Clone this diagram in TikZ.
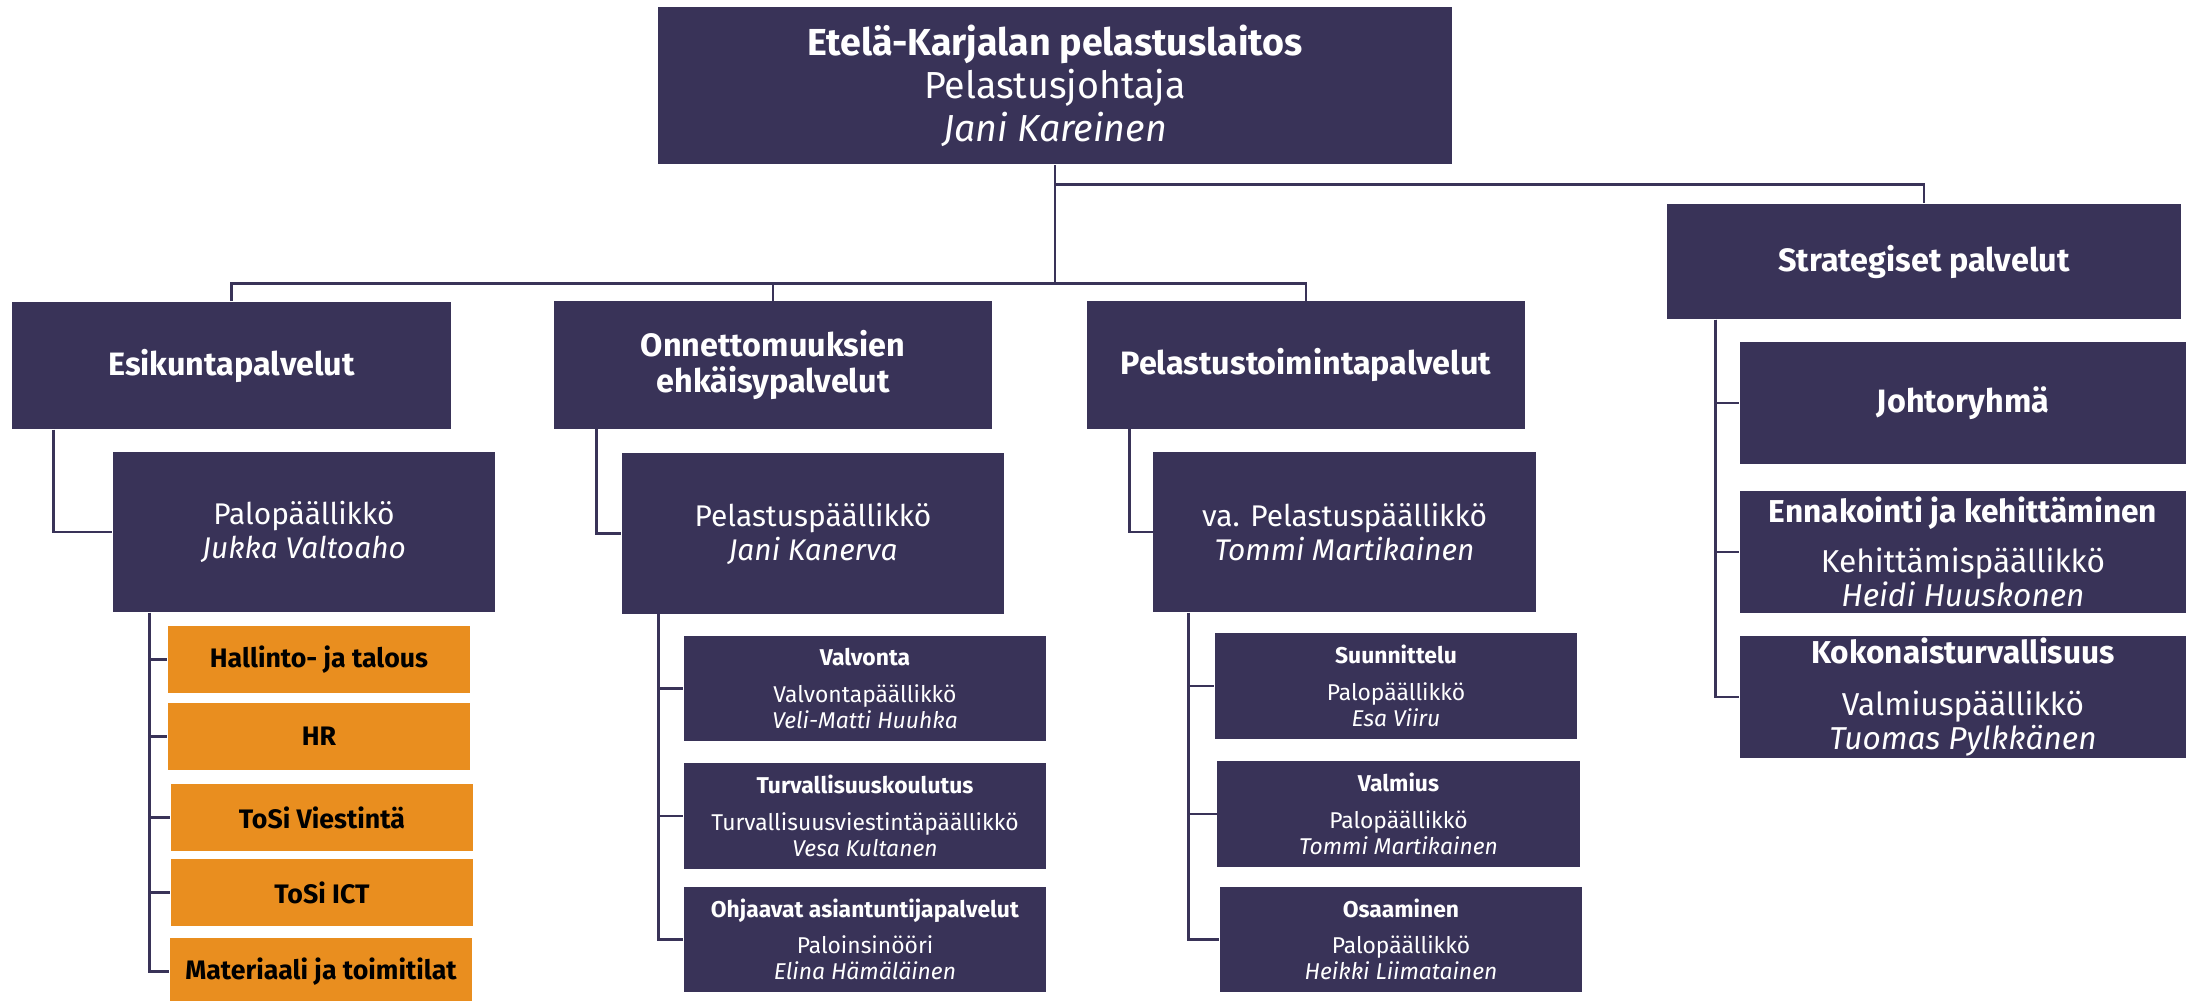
\documentclass[tikz,border=0pt]{standalone}
\usepackage{fontspec}
\setmainfont{Fira Sans}
\usetikzlibrary{positioning}
\definecolor{navy}{HTML}{393358}
\definecolor{amber}{HTML}{E98E1F}

\begin{document}
\begin{tikzpicture}[
        x=0.01cm, y=-0.01cm,
        box/.style={fill=navy, text=white, align=center, inner sep=0pt},
        head/.style={box, minimum width=7.94cm, minimum height=1.57cm,
            font=\fontsize{10.7}{12.2}\selectfont},
        unit/.style={box, minimum width=4.38cm, minimum height=1.27cm,
            font=\bfseries\fontsize{9.2}{10.2}\selectfont},
        lead/.style={box, minimum width=3.82cm, minimum height=1.6cm,
            font=\fontsize{8.5}{9.7}\selectfont},
        group/.style={box, minimum width=4.46cm, minimum height=1.22cm,
            font=\fontsize{9}{9.6}\selectfont},
        sect/.style={box, minimum width=3.62cm, minimum height=1.05cm,
            font=\fontsize{6.5}{7.4}\selectfont},
        team/.style={fill=amber, text=black, inner sep=0pt, minimum width=3.02cm,
            minimum height=0.67cm, font=\bfseries\fontsize{7.6}{9}\selectfont},
        link/.style={draw=navy, line width=0.8pt}
    ]
    \useasboundingbox (0,0) rectangle (2191,1000);

    \node[head] (top) at (1055,85.5) {\textbf{Etelä-Karjalan pelastuslaitos}\\
        Pelastusjohtaja\\\textit{Jani Kareinen}};

    % palvelualueet
    \node[unit] (esik) at (231.5,365.5) {Esikuntapalvelut};
    \node[unit] (onn) at (773,365) {Onnettomuuksien\\ehkäisypalvelut};
    \node[unit] (pel) at (1306,365) {Pelastustoimintapalvelut};
    \node[unit, minimum width=5.14cm, minimum height=1.15cm] (strat) at (1924,261.5) {Strategiset palvelut};

    \node[lead] (palo) at (304,532) {Palopäällikkö\\\textit{Jukka Valtoaho}};
    \node[lead] (pelp) at (813,533.5) {Pelastuspäällikkö\\\textit{Jani Kanerva}};
    \node[lead] (vapel) at (1344.5,532) {va. Pelastuspäällikkö\\\textit{Tommi Martikainen}};

    \node[group, font=\bfseries\fontsize{9.2}{10}\selectfont] (johto) at (1963,403) {Johtoryhmä};
    \node[group] (enna) at (1963,552) {\textbf{Ennakointi ja kehittäminen}\\[4.5pt]
        Kehittämispäällikkö\\\textit{Heidi Huuskonen}};
    \node[group] (koko) at (1963,697) {\textbf{Kokonaisturvallisuus}\\[5pt]
        Valmiuspäällikkö\\\textit{Tuomas Pylkkänen}};

    % esikunnan tiimit
    \node[team] (hall) at (319,659.5) {Hallinto- ja talous};
    \node[team] (hr) at (319,736.5) {HR};
    \node[team] (tosiv) at (322,817.5) {ToSi Viestintä};
    \node[team] (tosii) at (322,892.5) {ToSi ICT};
    \node[team] (mat) at (321,971.5) {Materiaali ja toimitilat};

    \node[sect] (valv) at (865,688.5) {\textbf{Valvonta}\\[3pt]
        Valvontapäällikkö\\\textit{Veli-Matti Huuhka}};
    \node[sect] (turv) at (865,816) {\textbf{Turvallisuuskoulutus}\\[3pt]
        Turvallisuusviestintäpäällikkö\\\textit{Vesa Kultanen}};
    \node[sect] (ohj) at (865,939.5) {\textbf{Ohjaavat asiantuntijapalvelut}\\[3pt]
        Paloinsinööri\\\textit{Elina Hämäläinen}};

    \node[sect] (suun) at (1396,686) {\textbf{Suunnittelu}\\[3pt]
        Palopäällikkö\\\textit{Esa Viiru}};
    \node[sect] (valm) at (1398.5,814) {\textbf{Valmius}\\[3pt]
        Palopäällikkö\\\textit{Tommi Martikainen}};
    \node[sect] (osaa) at (1401,939.5) {\textbf{Osaaminen}\\[3pt]
        Palopäällikkö\\\textit{Heikki Liimatainen}};

    % yhteydet
    \draw[link] (top.south) -- ++(0,119) -| (esik.north);
    \draw[link] (top.south) ++(0,119) -| (onn.north);
    \draw[link] (top.south) ++(0,119) -| (pel.north);
    \draw[link] (top.south) ++(0,20) -| (strat.north);

    \draw[link] (esik.south west) ++(42,0) |- (palo.west);
    \draw[link] (onn.south west) ++(43,0) |- (pelp.west);
    \draw[link] (pel.south west) ++(43,0) |- (vapel.west);
    \foreach \n in {johto,enna,koko}
        \draw[link] (strat.south west) ++(49,0) |- (\n.west);

    \foreach \n in {hall,hr,tosiv,tosii,mat}
        \draw[link] (palo.south west) ++(37,0) |- (\n.west);
    \foreach \n in {valv,turv,ohj}
        \draw[link] (pelp.south west) ++(37,0) |- (\n.west);
    \foreach \n in {suun,valm,osaa}
        \draw[link] (vapel.south west) ++(36,0) |- (\n.west);
\end{tikzpicture}
\end{document}
